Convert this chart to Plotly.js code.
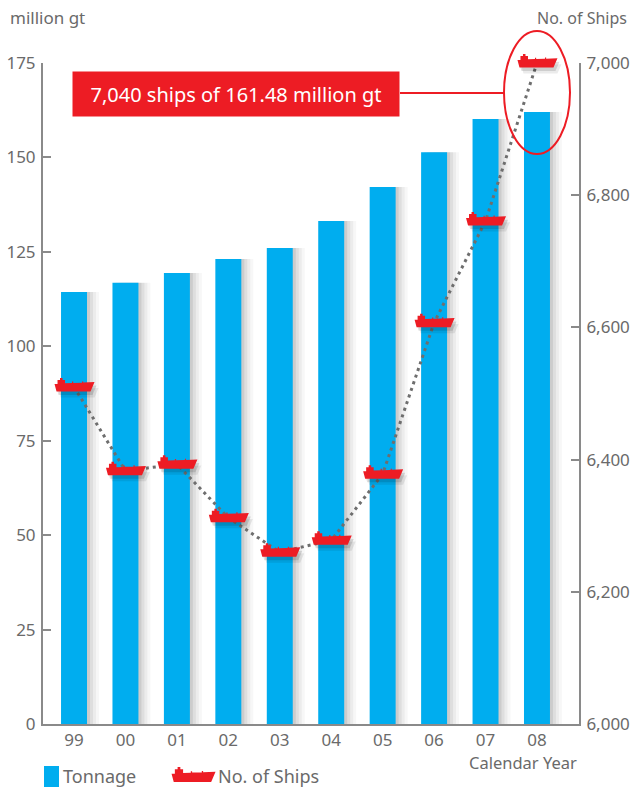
<!DOCTYPE html>
<html>
<head>
<meta charset="utf-8">
<script src="https://cdn.plot.ly/plotly-3.0.1.min.js"></script>
<style>
html,body{margin:0;padding:0;background:#fff;}
#chart{width:634px;height:789px;}
</style>
</head>
<body>
<div id="chart"></div>
<script>
// ---- data ----
const years = ['99','00','01','02','03','04','05','06','07','08'];
const tonnage = [114.4,116.8,119.4,123.1,126.0,133.2,142.2,151.4,160.2,162.0];
const ships = [6510,6383,6393,6312,6260,6278,6378,6607,6761,7000];
const leftTicks = [0,25,50,75,100,125,150,175];
const rightTicks = [6000,6200,6400,6600,6800,7000];
const calloutText = '7,040 ships of 161.48 million gt';

// ---- layout geometry ----
const W = 634, H = 789;
const M = {l:43, r:55, t:30, b:65};
const plotW = W - M.l - M.r, plotH = H - M.t - M.b;   // 536 x 694
const axisTopPx = 63;                                   // pixel row of the 175 / 7,000 ticks
const axisH = H - M.b - axisTopPx;                      // 661
const mainDomTop = axisH / plotH;
const xRange = [-0.603, 9.817];
const yRange = [0, 175];
const y2Range = [6000, 7000];
// invisible full-height twin of the ships axis, same scale, so ship icons are not clipped
const y3Range = [y2Range[0], y2Range[0] + (y2Range[1]-y2Range[0]) * plotH / axisH];
const xs = years.map((_, i) => i);

const gray = '#6a6a6a';
const axisGray = '#8a8a8a';
const blue = '#00ADEF';
const red = '#ED1C24';
const FONT = 'Noto Sans, Open Sans, sans-serif';

// px -> paper helpers
const px = x => (x - M.l) / plotW;
const py = y => (H - M.b - y) / plotH;

// ship silhouette (px offsets, y down)
const shipPts = [[-19.5,-3],[-16.5,-3],[-16.5,-7],[-14,-7],[-14,-9],[-11.5,-9],[-11.5,-7],[-9,-7],[-9,-3.7],[-2,-3.9],[-2,-5.3],[-0.8,-5.3],[-0.8,-4],[8,-4.2],[8,-5.5],[9.2,-5.5],[9.2,-4.3],[20.5,-4.8],[16.5,4.5],[-17.5,4.5]];

const xu = (xRange[1]-xRange[0]) / plotW;
const yu = (y3Range[1]-y3Range[0]) / plotH;

function shipPathData(xc, yc, ox, oy) {
  return shipPts.map((p, k) => (k ? 'L' : 'M') + (xc + (p[0]+ox)*xu) + ',' + (yc - (p[1]+oy)*yu)).join(' ') + ' Z';
}
function shipPathPaper(cx, cy, s) {
  return shipPts.map((p, k) => (k ? 'L' : 'M') + px(cx + p[0]*s) + ',' + py(cy + p[1]*s)).join(' ') + ' Z';
}

const shapes = [];
// ship shadows
xs.forEach((x, i) => {
  shapes.push({type:'path', xref:'x', yref:'y3', layer:'above', path: shipPathData(x, ships[i], 4, 6),
    fillcolor:'rgba(0,0,0,0.08)', line:{width:0}});
  shapes.push({type:'path', xref:'x', yref:'y3', layer:'above', path: shipPathData(x, ships[i], 2, 3.5),
    fillcolor:'rgba(0,0,0,0.12)', line:{width:0}});
});
// ships
xs.forEach((x, i) => {
  shapes.push({type:'path', xref:'x', yref:'y3', layer:'above', path: shipPathData(x, ships[i], 0, 0),
    fillcolor:red, line:{width:0}});
});
// callout ellipse and leader
shapes.push({type:'circle', xref:'paper', yref:'paper', x0:px(504), x1:px(570), y0:py(154), y1:py(31),
  line:{color:red, width:2}, fillcolor:'rgba(0,0,0,0)', layer:'above'});
shapes.push({type:'line', xref:'paper', yref:'paper', x0:px(400), x1:px(504), y0:py(93), y1:py(93),
  line:{color:red, width:2}, layer:'above'});
// legend swatches
shapes.push({type:'rect', xref:'paper', yref:'paper', x0:px(44), x1:px(59), y0:py(787), y1:py(766),
  fillcolor:blue, line:{width:0}});
shapes.push({type:'path', xref:'paper', yref:'paper', path: shipPathPaper(193, 777, 1.1),
  fillcolor:red, line:{width:0}});

const annotations = [
  {xref:'paper', yref:'paper', x:px(8), y:py(18), xanchor:'left', yanchor:'middle', showarrow:false,
   text:'million gt', font:{family:FONT, size:17, color:gray}},
  {xref:'paper', yref:'paper', x:px(629), y:py(18), xanchor:'right', yanchor:'middle', showarrow:false,
   text:'No. of Ships', font:{family:FONT, size:16, color:gray}},
  {xref:'paper', yref:'paper', x:px(579), y:py(762), xanchor:'right', yanchor:'middle', showarrow:false,
   text:'Calendar Year', font:{family:FONT, size:16.5, color:gray}},
  {xref:'paper', yref:'paper', x:px(61), y:py(776), xanchor:'left', yanchor:'middle', showarrow:false,
   text:'Tonnage', font:{family:FONT, size:18, color:gray}},
  {xref:'paper', yref:'paper', x:px(216), y:py(776), xanchor:'left', yanchor:'middle', showarrow:false,
   text:'No. of Ships', font:{family:FONT, size:18, color:gray}},
  {xref:'paper', yref:'paper', x:px(236), y:py(94), xanchor:'center', yanchor:'middle', showarrow:false,
   text:calloutText, bgcolor:red, width:320, height:38, borderpad:3,
   font:{family:FONT, size:20, color:'#ffffff'}}
];

const shadowLayers = [
  {shift:12, c:'rgba(0,0,0,0.03)'},
  {shift:9, c:'rgba(0,0,0,0.045)'},
  {shift:6, c:'rgba(0,0,0,0.06)'},
  {shift:3, c:'rgba(0,0,0,0.08)'}
];
const bw = 0.505;
const traces = shadowLayers.map(s => ({
  type:'bar', x:xs, y:tonnage, width:bw, offset:-bw/2 + s.shift*xu,
  marker:{color:s.c, line:{width:0}}, hoverinfo:'skip', showlegend:false
}));
traces.push({type:'bar', name:'Tonnage', x:xs, y:tonnage, width:bw, offset:-bw/2,
  marker:{color:blue, line:{width:0}}, showlegend:false});
// ships axis ticks (y2) – carry an invisible copy so the axis is drawn
traces.push({type:'scatter', mode:'none', x:xs, y:ships, yaxis:'y2', hoverinfo:'skip', showlegend:false});
traces.push({type:'scatter', mode:'lines', name:'No. of Ships', x:xs, y:ships, yaxis:'y3',
  line:{color:'#6e6e6e', width:3, dash:'3px,4px'}, showlegend:false});

const axFont = {family:FONT, size:17, color:gray};
const layout = {
  width:W, height:H,
  margin:M,
  paper_bgcolor:'#ffffff', plot_bgcolor:'rgba(0,0,0,0)',
  barmode:'overlay',
  showlegend:false,
  font:{family:FONT, size:17, color:gray},
  xaxis:{range:xRange, tickvals:xs, ticktext:years, showgrid:false, zeroline:false,
    showline:true, linecolor:axisGray, linewidth:2, ticks:'', fixedrange:true, tickfont:axFont},
  yaxis:{domain:[0, mainDomTop], range:yRange, tickvals:leftTicks, showgrid:false, zeroline:false,
    showline:true, linecolor:axisGray, linewidth:2, ticks:'inside', ticklen:8, tickwidth:2, tickcolor:axisGray,
    tickfont:axFont, ticklabelstandoff:2},
  yaxis2:{range:y2Range, tickvals:rightTicks, tickformat:',d', overlaying:'y', side:'right', anchor:'x',
    showgrid:false, zeroline:false, showline:true, linecolor:axisGray, linewidth:2,
    ticks:'inside', ticklen:8, tickwidth:2, tickcolor:axisGray, tickfont:axFont, ticklabelstandoff:2},
  yaxis3:{domain:[0,1], range:y3Range, anchor:'x', visible:false, showgrid:false, zeroline:false},
  shapes:shapes,
  annotations:annotations
};

Plotly.newPlot('chart', traces, layout, {displayModeBar:false, staticPlot:true});
</script>
</body>
</html>
